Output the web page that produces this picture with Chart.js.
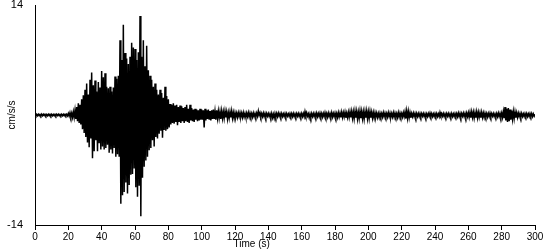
<!DOCTYPE html>
<html lang="en">

<head>
    <meta charset="UTF-8">
    <title>Accelerogram</title>
    <script src="https://cdn.jsdelivr.net/npm/chart.js"></script>
    <style>
        * {
            margin: 0;
            padding: 0;
            box-sizing: border-box;
        }

        body {
            background-color: #ffffff;
            width: 550px;
            height: 250px;
            overflow: hidden;
        }

        canvas {
            display: block;
        }
    </style>
</head>

<body>
    <canvas id="quakeChart" width="550" height="250"></canvas>

    <script>
        // Sampling interval of the record (s) - one value every half second
        const sampleStep = 0.5;

        // Ground acceleration (cm/s/s), 20 values per 10 s row
        const accel = [
            // 0-10 s
            0.1, -0.08, 0.09, -0.1, 0.1, -0.09, 0.08, -0.1, 0.1, -0.1, 0.09, -0.08, 0.1, -0.1, 0.08, -0.09, 0.1, -0.1, 0.09, -0.1,
            // 10-20 s
            0.1, -0.09, 0.08, -0.1, 0.09, -0.1, 0.1, -0.08, 0.1, -0.1, 0.08, -0.09, 0.1, -0.1, 0.09, -0.1, 0.1, -0.09, 0.1, -0.1,
            // 20-30 s
            0.2, -0.15, 0.3, -0.2, 0.25, -0.3, 0.4, -0.3, 0.6, -0.5, 1.0, -0.8, 1.5, -1.0, 1.3, -1.2, 2.0, -1.8, 2.5, -2.3,
            // 30-40 s
            3.2, -2.8, 4.0, -3.5, 2.6, -4.1, 4.5, -3.0, 5.4, -5.5, 3.8, -4.6, 4.4, -3.2, 3.0, -4.6, 4.2, -3.6, 3.5, -4.4,
            // 40-50 s
            5.6, -4.0, 4.8, -4.4, 5.3, -4.2, 3.6, -3.8, 3.4, -4.8, 3.6, -4.4, 3.0, -4.9, 3.5, -4.2, 4.9, -5.3, 4.6, -5.0,
            // 50-60 s
            5.0, -5.3, 9.5, -11.3, 7.0, -10.2, 11.5, -9.8, 7.9, -8.6, 7.2, -10.0, 6.5, -8.9, 7.4, -7.6, 9.2, -7.5, 8.6, -6.8,
            // 60-70 s
            8.4, -9.2, 7.0, -10.4, 8.0, -9.0, 12.6, -12.9, 7.4, -8.0, 9.5, -6.6, 6.2, -5.8, 8.8, -5.3, 5.7, -4.5, 5.0, -4.2,
            // 70-80 s
            4.5, -3.2, 3.6, -4.0, 4.0, -2.8, 3.2, -3.0, 2.6, -2.4, 3.2, -2.0, 2.8, -2.9, 2.2, -1.9, 3.6, -2.0, 2.4, -1.8,
            // 80-90 s
            2.0, -1.6, 1.4, -1.2, 1.3, -1.0, 1.5, -1.1, 1.2, -0.9, 1.3, -1.3, 1.0, -0.9, 1.2, -1.0, 1.1, -0.8, 0.9, -1.0,
            // 90-100 s
            1.0, -0.8, 1.3, -0.9, 0.8, -1.0, 1.3, -0.7, 0.9, -0.8, 0.7, -0.9, 0.8, -0.6, 0.7, -0.8, 0.6, -0.7, 0.8, -0.6,
            // 100-110 s
            0.7, -0.6, 0.6, -1.6, 0.8, -0.7, 0.6, -0.5, 0.7, -0.6, 0.5, -0.7, 0.6, -0.5, 0.7, -0.5, 0.5, -0.6, 0.6, -0.4,
            // 110-120 s
            0.5, -0.4, 0.4, -0.5, 0.5, -0.4, 0.4, -0.4, 0.5, -0.3, 0.4, -0.5, 0.3, -0.4, 0.4, -0.3, 0.5, -0.4, 0.3, -0.4,
            // 120-130 s
            0.3, -0.25, 0.25, -0.3, 0.3, -0.2, 0.3, -0.25, 0.25, -0.3, 0.3, -0.25, 0.2, -0.3, 0.25, -0.2, 0.3, -0.25, 0.25, -0.2,
            // 130-140 s
            0.2, -0.25, 0.25, -0.2, 0.2, -0.2, 0.25, -0.15, 0.5, -0.05, 0.3, -0.2, 0.2, -0.2, 0.25, -0.2, 0.2, -0.25, 0.2, -0.15,
            // 140-150 s
            0.2, -0.2, 0.15, -0.25, 0.2, -0.35, 0.1, -0.4, 0.2, -0.25, 0.2, -0.2, 0.25, -0.15, 0.2, -0.2, 0.2, -0.2, 0.15, -0.2,
            // 150-160 s
            0.2, -0.2, 0.2, -0.15, 0.15, -0.2, 0.2, -0.15, 0.2, -0.2, 0.2, -0.2, 0.15, -0.2, 0.2, -0.15, 0.2, -0.2, 0.15, -0.2,
            // 160-170 s
            0.2, -0.2, 0.2, -0.2, 0.45, -0.05, 0.3, -0.15, 0.15, -0.35, 0.15, -0.3, 0.2, -0.2, 0.2, -0.2, 0.2, -0.2, 0.25, -0.2,
            // 170-180 s
            0.2, -0.2, 0.25, -0.2, 0.2, -0.25, 0.2, -0.2, 0.3, -0.2, 0.2, -0.25, 0.25, -0.2, 0.2, -0.2, 0.3, -0.25, 0.2, -0.2,
            // 180-190 s
            0.25, -0.25, 0.2, -0.3, 0.3, -0.25, 0.25, -0.3, 0.35, -0.3, 0.3, -0.25, 0.35, -0.35, 0.25, -0.3, 0.35, -0.3, 0.4, -0.3,
            // 190-200 s
            0.45, -0.4, 0.4, -0.45, 0.5, -0.35, 0.45, -0.5, 0.35, -0.45, 0.5, -0.4, 0.45, -0.45, 0.4, -0.5, 0.45, -0.35, 0.5, -0.45,
            // 200-210 s
            0.4, -0.45, 0.45, -0.35, 0.35, -0.4, 0.3, -0.35, 0.3, -0.25, 0.25, -0.3, 0.2, -0.3, 0.25, -0.2, 0.2, -0.25, 0.3, -0.2,
            // 210-220 s
            0.25, -0.2, 0.2, -0.25, 0.3, -0.2, 0.25, -0.3, 0.2, -0.25, 0.3, -0.25, 0.25, -0.2, 0.2, -0.3, 0.3, -0.25, 0.25, -0.2,
            // 220-230 s
            0.2, -0.25, 0.3, -0.2, 0.4, -0.45, 0.5, -0.4, 0.45, -0.35, 0.3, -0.35, 0.2, -0.2, 0.25, -0.2, 0.2, -0.25, 0.2, -0.2,
            // 230-240 s
            0.2, -0.2, 0.2, -0.2, 0.2, -0.15, 0.2, -0.2, 0.15, -0.25, 0.15, -0.2, 0.2, -0.15, 0.25, -0.15, 0.2, -0.2, 0.15, -0.2,
            // 240-250 s
            0.2, -0.15, 0.2, -0.2, 0.15, -0.2, 0.35, -0.05, 0.2, -0.15, 0.2, -0.2, 0.15, -0.2, 0.2, -0.15, 0.2, -0.2, 0.15, -0.2,
            // 250-260 s
            0.2, -0.2, 0.15, -0.2, 0.2, -0.15, 0.2, -0.2, 0.25, -0.2, 0.2, -0.25, 0.2, -0.15, 0.25, -0.2, 0.2, -0.25, 0.25, -0.2,
            // 260-270 s
            0.3, -0.3, 0.35, -0.35, 0.4, -0.3, 0.35, -0.4, 0.3, -0.35, 0.4, -0.35, 0.35, -0.3, 0.3, -0.35, 0.35, -0.3, 0.25, -0.3,
            // 270-280 s
            0.25, -0.2, 0.2, -0.25, 0.2, -0.2, 0.25, -0.2, 0.2, -0.15, 0.2, -0.2, 0.15, -0.2, 0.2, -0.2, 0.25, -0.2, 0.2, -0.25,
            // 280-290 s
            0.25, -0.3, 0.45, -0.4, 1.0, -0.7, 0.8, -0.9, 0.9, -0.8, 0.7, -0.6, 0.55, -0.5, 0.45, -0.45, 0.4, -0.35, 0.3, -0.3,
            // 290-300 s
            0.25, -0.2, 0.2, -0.25, 0.2, -0.2, 0.15, -0.2, 0.2, -0.15, 0.2, -0.2, 0.15, -0.2, 0.2, -0.15, 0.2, -0.2, 0.15, -0.15,
            0.1
        ];

        // Axis ranges and tick labels
        const timeRange = [0, 300];
        const timeTickStep = 20;
        const accelTicks = [-14, 14];

        const textFont = { family: "'Liberation Sans', Arial, sans-serif", size: 10 };
        const titleFont = { family: "'Liberation Sans', Arial, sans-serif", size: 10 };

        const points = accel.map((v, i) => ({ x: i * sampleStep, y: v }));

        const ctx = document.getElementById('quakeChart').getContext('2d');

        new Chart(ctx, {
            type: 'line',
            data: {
                datasets: [{
                    data: points,
                    borderColor: '#000000',
                    backgroundColor: '#000000',
                    borderWidth: 1.5,
                    pointRadius: 0,
                    tension: 0,
                    // filling to zero makes the dense trace read as a solid mass
                    fill: 'origin'
                }]
            },
            options: {
                responsive: false,
                animation: false,
                events: [],
                layout: {
                    padding: { top: 5, right: 15, bottom: 0, left: 0 }
                },
                plugins: {
                    legend: { display: false },
                    tooltip: { enabled: false }
                },
                scales: {
                    x: {
                        type: 'linear',
                        min: timeRange[0],
                        max: timeRange[1],
                        ticks: {
                            stepSize: timeTickStep,
                            color: '#000000',
                            font: textFont,
                            padding: 1,
                            maxRotation: 0,
                            autoSkip: false
                        },
                        grid: {
                            drawOnChartArea: false,
                            color: '#000000',
                            tickLength: 5
                        },
                        border: { color: '#000000' },
                        title: {
                            display: true,
                            // trailing spaces pull the centred title left, like the original
                            text: 'Time (s)' + ' '.repeat(24),
                            color: '#000000',
                            font: titleFont,
                            padding: { top: 0, bottom: 0 }
                        },
                        afterFit(scale) {
                            scale.height = 25;
                            scale.paddingLeft = 0;
                            scale.paddingRight = 0;
                        }
                    },
                    y: {
                        min: -14,
                        max: 14,
                        afterBuildTicks(scale) {
                            scale.ticks = accelTicks.map(v => ({ value: v }));
                        },
                        ticks: {
                            color: '#000000',
                            font: { family: textFont.family, size: 11 },
                            padding: 12
                        },
                        grid: {
                            display: false,
                            drawTicks: false
                        },
                        border: { color: '#000000' },
                        title: {
                            display: true,
                            text: 'cm/s/s',
                            color: '#000000',
                            font: titleFont,
                            padding: { top: 6, bottom: 0 }
                        },
                        afterFit(scale) {
                            scale.width = 35;
                            scale.paddingTop = 0;
                            scale.paddingBottom = 0;
                        }
                    }
                }
            }
        });
    </script>
</body>

</html>
